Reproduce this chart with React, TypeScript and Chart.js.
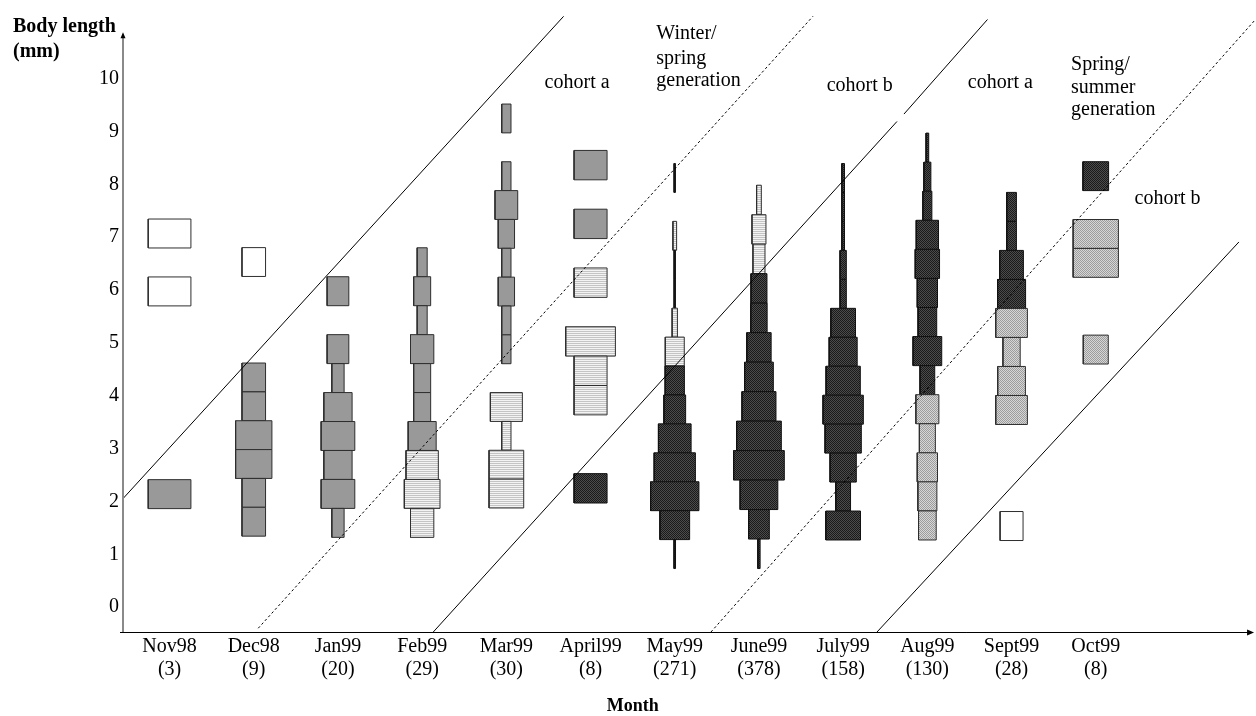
import React, { useEffect, useRef } from 'react';
import { Chart, registerables } from 'chart.js';

Chart.register(...registerables);

// ---------------- data ----------------
const MONTHS = ['Nov98', 'Dec98', 'Jan99', 'Feb99', 'Mar99', 'April99', 'May99', 'June99', 'July99', 'Aug99', 'Sept99', 'Oct99'];
const COUNTS = [3, 9, 20, 29, 30, 8, 271, 378, 158, 130, 28, 8];
const Y_TICKS = [0, 1, 2, 3, 4, 5, 6, 7, 8, 9, 10];

// lower edge (mm) of the first length class of each month, and class width (mm)
const CLASS_START = [1.316, 1.343, 1.32, 1.32, 1.33, 1.97, 0.73, 0.73, 1.27, 1.27, 1.26, 4.6];
const CLASS_WIDTH = [0.548, 0.546, 0.548, 0.548, 0.546, 0.556, 0.5475, 0.558, 0.548, 0.55, 0.549, 0.547];

// relative frequency of each length class (bottom to top), 0 = none
const NOV98 = [0, 50.7, 0, 0, 0, 0, 0, 0, 50.7, 0, 50.7];
const DEC98 = [28, 28, 43.1, 43.1, 28, 28, 0, 0, 0, 28];
const JAN99 = [14.6, 40, 33.6, 40, 33.6, 14.6, 25.8, 0, 25.8];
const FEB99 = [27.7, 42.4, 38.4, 33.3, 20.2, 20.2, 27.7, 11.9, 20.2, 11.9];
const MAR99 = [0, 41.2, 41.2, 11, 38, 0, 11, 11, 19.4, 11, 19.4, 27, 11, 0, 11];
const APR99 = [39.2, 0, 0, 39.2, 39.2, 59, 0, 39.2, 0, 39.2, 0, 39.2];
const MAY99 = [1.8, 35.3, 57.4, 49, 38.8, 25.8, 22.9, 22.6, 6.3, 1.6, 1.6, 4.4, 0, 1.6];
const JUN99 = [2.7, 24.6, 44.8, 60.2, 53.1, 40.4, 34.1, 28.9, 19.4, 19, 14.3, 16.6, 5.6];
const JUL99 = [41.2, 17.5, 31.2, 43.1, 47.9, 40.7, 33.3, 29.3, 7.5, 7.5, 3.2, 3.2, 3.2];
const AUG99 = [21, 22.6, 24.1, 19, 27.3, 17.5, 34.1, 22.2, 24.1, 28.9, 26.5, 10.7, 8.3, 3.2];
const SEP99 = [27.3, 0, 0, 0, 37.6, 32.9, 20.5, 37.6, 33.3, 28.1, 11.5, 11.5];
const OCT99 = [29.7, 0, 0, 53.8, 53.8, 0, 30.5];
const FREQ = [NOV98, DEC98, JAN99, FEB99, MAR99, APR99, MAY99, JUN99, JUL99, AUG99, SEP99, OCT99];

// group of each length class: G grey, W white, H hatched, D dark, M mid-grey dotted
const GROUP = [
  '-G------W-W',
  'GGGGGG---W',
  'GGGGGGG-G',
  'HHHGGGGGGG',
  '-HHHH-GGGGGGG-G',
  'D--HHH-H-G-G',
  'DDDDDDDHHDDH-D',
  'DDDDDDDDDDHHH',
  'DDDDDDDDDDDDD',
  'MMMMMDDDDDDDDD',
  'W---MMMMDDDD',
  'M--MM-D',
];

// cohort separation lines (month units, mm)
const LINE_X = [[-0.553, 4.68], [1.053, 7.641], [3.132, 8.639], [8.722, 9.714], [6.43, 12.88], [8.402, 12.7]];
const LINE_Y = [[2.053, 11.18], [-0.4, 11.18], [-0.471, 9.19], [9.33, 11.12], [-0.471, 11.09], [-0.471, 6.91]];
const LINE_DOTTED = [false, true, false, false, true, false];

// annotations (left edge, middle)
const NOTE_TEXT = ['cohort a', 'Winter/', 'spring', 'generation', 'cohort b', 'cohort a', 'Spring/', 'summer', 'generation', 'cohort b'];
const NOTE_X = [4.454, 5.781, 5.781, 5.781, 7.805, 9.481, 10.706, 10.706, 10.706, 11.46];
const NOTE_Y = [9.925, 10.847, 10.38, 9.962, 9.868, 9.925, 10.264, 9.831, 9.416, 7.721];

// axis ranges
const X_MIN = -0.553;
const X_MAX = 12.903;
const Y_MIN = -0.471;
const Y_MAX = 11.186;
const Y_ARROW = 10.88;
const X_ARROW = 12.88;

const FONT = "'Liberation Serif', 'Times New Roman', serif";

function tilePattern(rows: string[][]): CanvasPattern | string {
  const t = document.createElement('canvas');
  t.width = rows[0].length;
  t.height = rows.length;
  const c = t.getContext('2d');
  if (!c) return '#999';
  rows.forEach((row, y) => row.forEach((col, x) => {
    c.fillStyle = col;
    c.fillRect(x, y, 1, 1);
  }));
  const p = c.createPattern(t, 'repeat');
  return p || '#999';
}

const decor = {
  id: 'decor',
  afterDraw(chart: any) {
    const ctx = chart.ctx;
    const xs = chart.scales.x;
    const ys = chart.scales.y;
    const area = chart.chartArea;
    ctx.save();
    // y axis
    const ax = area.left;
    const yTip = ys.getPixelForValue(Y_ARROW);
    ctx.strokeStyle = '#8a8a8a';
    ctx.lineWidth = 2;
    ctx.beginPath();
    ctx.moveTo(ax, area.bottom);
    ctx.lineTo(ax, yTip + 4);
    ctx.stroke();
    ctx.fillStyle = '#000';
    ctx.beginPath();
    ctx.moveTo(ax, yTip);
    ctx.lineTo(ax - 2.5, yTip + 6);
    ctx.lineTo(ax + 2.5, yTip + 6);
    ctx.closePath();
    ctx.fill();
    // x axis
    const xTip = xs.getPixelForValue(X_ARROW);
    ctx.strokeStyle = '#000';
    ctx.lineWidth = 1;
    ctx.beginPath();
    ctx.moveTo(ax - 3, area.bottom + 0.5);
    ctx.lineTo(xTip - 6, area.bottom + 0.5);
    ctx.stroke();
    ctx.beginPath();
    ctx.moveTo(xTip, area.bottom + 0.5);
    ctx.lineTo(xTip - 7, area.bottom - 2.5);
    ctx.lineTo(xTip - 7, area.bottom + 3.5);
    ctx.closePath();
    ctx.fill();
    // axis titles
    ctx.fillStyle = '#000';
    ctx.font = `bold 20px ${FONT}`;
    ctx.textAlign = 'left';
    ctx.textBaseline = 'middle';
    ctx.fillText('Body length', 13, 27);
    ctx.fillText('(mm)', 13, 52);
    ctx.font = `bold 18px ${FONT}`;
    ctx.textAlign = 'center';
    ctx.fillText('Month', xs.getPixelForValue(5.5), 706);
    // annotations
    ctx.font = `20px ${FONT}`;
    ctx.textAlign = 'left';
    NOTE_TEXT.forEach((t, i) => {
      ctx.fillText(t, xs.getPixelForValue(NOTE_X[i]), ys.getPixelForValue(NOTE_Y[i]));
    });
    ctx.restore();
  },
};

export default function App() {
  const ref = useRef<HTMLCanvasElement | null>(null);

  useEffect(() => {
    const canvas = ref.current;
    if (!canvas) return;
    const ctx = canvas.getContext('2d');
    if (!ctx) return;

    const fills: Record<string, any> = {
      G: '#999999',
      W: '#ffffff',
      H: tilePattern([['#f3f3f3'], ['#c4c4c4']]),
      D: tilePattern([['#1a1a1a', '#4c4c4c'], ['#4c4c4c', '#1a1a1a']]),
      M: tilePattern([['#9c9c9c', '#d6d6d6'], ['#d6d6d6', '#9c9c9c']]),
    };

    const datasets: any[] = [];
    LINE_X.forEach((xx, i) => {
      datasets.push({
        data: [{ x: xx[0], y: LINE_Y[i][0] }, { x: xx[1], y: LINE_Y[i][1] }],
        borderColor: '#000',
        borderWidth: 1,
        borderDash: LINE_DOTTED[i] ? [2.5, 2.5] : [],
        fill: false,
        pointRadius: 0,
        order: 0,
      });
    });
    FREQ.forEach((freqs, m) => {
      freqs.forEach((f, k) => {
        if (!f) return;
        const lo = CLASS_START[m] + k * CLASS_WIDTH[m];
        const hi = lo + CLASS_WIDTH[m];
        const hw = f / 200;
        const g = GROUP[m][k];
        datasets.push({
          data: [
            { x: m - hw, y: lo },
            { x: m + hw, y: lo },
            { x: m + hw, y: hi },
            { x: m - hw, y: hi },
            { x: m - hw, y: lo },
          ],
          fill: 'shape',
          backgroundColor: fills[g],
          borderColor: g === 'D' ? '#111' : '#2e2e2e',
          borderWidth: 1,
          borderJoinStyle: 'miter',
          pointRadius: 0,
          tension: 0,
          order: 1,
        });
      });
    });

    const chart = new Chart(ctx, {
      type: 'line',
      data: { datasets },
      options: {
        animation: false,
        responsive: false,
        devicePixelRatio: 1,
        events: [],
        layout: { padding: { top: 13, left: 0, right: 0, bottom: 0 }, autoPadding: false },
        plugins: { legend: { display: false }, tooltip: { enabled: false } },
        scales: {
          x: {
            type: 'linear',
            min: X_MIN,
            max: X_MAX,
            grid: { display: false, drawTicks: false },
            border: { display: false },
            afterBuildTicks: (s: any) => { s.ticks = MONTHS.map((_, i) => ({ value: i })); },
            afterFit: (s: any) => { s.height = 84; },
            ticks: {
              autoSkip: false,
              maxRotation: 0,
              minRotation: 0,
              padding: 3,
              color: '#000',
              font: { family: FONT, size: 20, lineHeight: 1.165 },
              callback: (v: any) => [MONTHS[v], `(${COUNTS[v]})`],
            },
          },
          y: {
            type: 'linear',
            min: Y_MIN,
            max: Y_MAX,
            grid: { display: false, drawTicks: false },
            border: { display: false },
            afterBuildTicks: (s: any) => { s.ticks = Y_TICKS.map((v) => ({ value: v })); },
            afterFit: (s: any) => { s.width = 123; },
            ticks: {
              padding: 4,
              color: '#000',
              font: { family: FONT, size: 20 },
              callback: (v: any) => String(v),
            },
          },
        },
      },
      plugins: [decor],
    } as any);

    return () => chart.destroy();
  }, []);

  return (
    <div style={{ position: 'absolute', left: 0, top: 0, width: 1256, height: 716, background: '#fff' }}>
      <canvas ref={ref} width={1256} height={716} style={{ display: 'block' }} />
    </div>
  );
}
